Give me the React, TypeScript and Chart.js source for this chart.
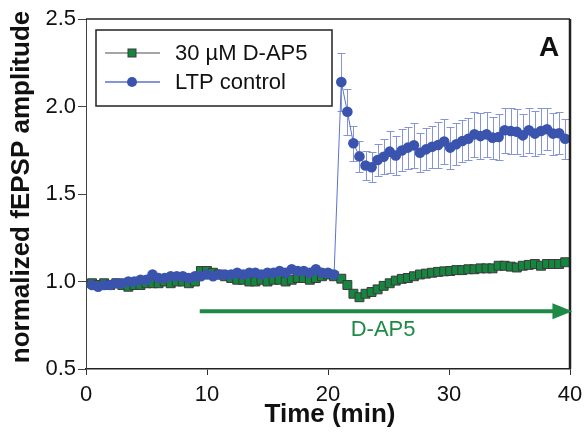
import { useEffect, useRef } from "react";
import { Chart, registerables } from "chart.js";
Chart.register(...registerables);

const baselineTimes = [0.5, 1, 1.5, 2, 2.5, 3, 3.5, 4, 4.5, 5, 5.5, 6, 6.5, 7, 7.5, 8, 8.5, 9, 9.5, 10, 10.5, 11, 11.5, 12, 12.5, 13, 13.5, 14, 14.5, 15, 15.5, 16, 16.5, 17, 17.5, 18, 18.5, 19, 19.5, 20, 20.5];
const postTimes = [21.1, 21.6, 22.1, 22.6, 23.1, 23.6, 24.1, 24.6, 25.1, 25.6, 26.1, 26.6, 27.1, 27.6, 28.1, 28.6, 29.1, 29.6, 30.1, 30.6, 31.1, 31.6, 32.1, 32.6, 33.1, 33.6, 34.1, 34.6, 35.1, 35.6, 36.1, 36.6, 37.1, 37.6, 38.1, 38.6, 39.1, 39.6];

const ltpBaseline = [0.98, 0.97, 0.98, 0.98, 0.99, 0.99, 1.0, 1.0, 1.01, 1.01, 1.04, 1.02, 1.02, 1.03, 1.03, 1.03, 1.02, 1.03, 1.03, 1.04, 1.03, 1.04, 1.04, 1.04, 1.05, 1.04, 1.05, 1.05, 1.04, 1.05, 1.05, 1.06, 1.05, 1.07, 1.06, 1.06, 1.05, 1.07, 1.05, 1.05, 1.04];
const ltpPost = [2.14, 1.97, 1.79, 1.715, 1.663, 1.653, 1.694, 1.713, 1.742, 1.72, 1.749, 1.765, 1.778, 1.736, 1.755, 1.77, 1.78, 1.8, 1.765, 1.784, 1.803, 1.816, 1.841, 1.831, 1.841, 1.822, 1.826, 1.864, 1.86, 1.856, 1.835, 1.864, 1.845, 1.86, 1.87, 1.845, 1.847, 1.816];
const ltpPostErr = [0.165, 0.13, 0.1, 0.09, 0.085, 0.085, 0.09, 0.1, 0.12, 0.11, 0.12, 0.12, 0.13, 0.11, 0.12, 0.12, 0.13, 0.13, 0.12, 0.12, 0.12, 0.12, 0.13, 0.13, 0.13, 0.12, 0.13, 0.13, 0.13, 0.13, 0.12, 0.13, 0.13, 0.13, 0.12, 0.12, 0.12, 0.115];

const dap5Baseline = [0.99, 0.98, 0.99, 0.98, 0.99, 0.98, 0.97, 0.98, 0.98, 0.99, 0.99, 0.99, 1.0, 0.99, 1.0, 1.0, 0.99, 1.0, 1.06, 1.06, 1.05, 1.04, 1.03, 1.02, 1.01, 1.01, 1.0, 1.0, 1.01, 1.0, 1.01, 1.01, 1.0, 1.01, 1.02, 1.02, 1.01, 1.02, 1.03, 1.04, 1.03];
const dap5Post = [1.016, 0.98, 0.93, 0.91, 0.93, 0.94, 0.955, 0.975, 0.99, 1.005, 1.015, 1.02, 1.03, 1.04, 1.045, 1.05, 1.055, 1.058, 1.06, 1.065, 1.065, 1.07, 1.07, 1.075, 1.075, 1.075, 1.09, 1.09, 1.085, 1.08, 1.09, 1.095, 1.1, 1.09, 1.1, 1.1, 1.1, 1.11];

const seriesLabels = ["30 \u00b5M D-AP5", "LTP control"];
const drugLabel = "D-AP5";
const drugStart = 9.4;
const drugEnd = 40.2;
const drugLevel = 0.83;
const panelLetter = "A";
const xTitle = "Time (min)";
const yTitle = "normalized fEPSP amplitude";

const FONT = "'Liberation Sans', Arial, Helvetica, sans-serif";
const BLUE = "#3a54ae";
const BLUE_LINE = "#5c72cc";
const BLUE_ERR = "#8595d8";
const GREEN = "#16853f";
const GREEN_EDGE = "#3a3a3a";
const ARROW_GREEN = "#1f8a46";

const zeroPad = (s: any) => {
  s.paddingLeft = 0;
  s.paddingRight = 0;
  s.paddingTop = 0;
  s.paddingBottom = 0;
};

export default function App() {
  const ref = useRef<HTMLCanvasElement | null>(null);

  useEffect(() => {
    document.body.style.margin = "0";
    const canvas = ref.current;
    if (!canvas) return;

    const times = [...baselineTimes, ...postTimes];
    const ltpVals = [...ltpBaseline, ...ltpPost];
    const ltpErr = [...baselineTimes.map(() => 0), ...ltpPostErr];
    const dapVals = [...dap5Baseline, ...dap5Post];

    const ltpData = times.map((t, i) => ({ x: t, y: ltpVals[i] }));
    const dapData = times.map((t, i) => ({ x: t, y: dapVals[i] }));

    const overlay = {
      id: "overlay",
      beforeDatasetsDraw(chart: any) {
        const { ctx } = chart;
        const xs = chart.scales.x;
        const ys = chart.scales.y;
        ctx.save();
        ctx.strokeStyle = BLUE_ERR;
        ctx.lineWidth = 1;
        times.forEach((t, i) => {
          const e = ltpErr[i];
          if (!e) return;
          const px = Math.round(xs.getPixelForValue(t)) + 0.5;
          const y1 = Math.round(ys.getPixelForValue(ltpVals[i] + e)) + 0.5;
          const y2 = Math.round(ys.getPixelForValue(ltpVals[i] - e)) + 0.5;
          ctx.beginPath();
          ctx.moveTo(px, y1);
          ctx.lineTo(px, y2);
          ctx.moveTo(px - 4, y1);
          ctx.lineTo(px + 4, y1);
          ctx.moveTo(px - 4, y2);
          ctx.lineTo(px + 4, y2);
          ctx.stroke();
        });
        ctx.restore();
      },
      afterDraw(chart: any) {
        const { ctx, chartArea } = chart;
        const xs = chart.scales.x;
        const ys = chart.scales.y;
        ctx.save();
        ctx.strokeStyle = "#222";
        ctx.lineWidth = 1.5;
        ctx.beginPath();
        ctx.moveTo(chartArea.left, chartArea.top);
        ctx.lineTo(chartArea.right, chartArea.top);
        ctx.stroke();
        ctx.lineWidth = 2.5;
        ctx.beginPath();
        ctx.moveTo(chartArea.right, chartArea.top);
        ctx.lineTo(chartArea.right, chartArea.bottom);
        ctx.stroke();

        const ax1 = xs.getPixelForValue(drugStart);
        const ax2 = xs.getPixelForValue(drugEnd);
        const ay = ys.getPixelForValue(drugLevel);
        ctx.strokeStyle = ARROW_GREEN;
        ctx.fillStyle = ARROW_GREEN;
        ctx.lineWidth = 4;
        ctx.beginPath();
        ctx.moveTo(ax1, ay);
        ctx.lineTo(ax2 - 14, ay);
        ctx.stroke();
        ctx.beginPath();
        ctx.moveTo(ax2, ay);
        ctx.lineTo(ax2 - 20, ay - 8);
        ctx.lineTo(ax2 - 20, ay + 8);
        ctx.closePath();
        ctx.fill();
        ctx.font = `22px ${FONT}`;
        ctx.textAlign = "center";
        ctx.textBaseline = "middle";
        ctx.fillText(drugLabel, (ax1 + ax2) / 2 - 3, ay + 19);

        ctx.fillStyle = "#111";
        ctx.font = `bold 28px ${FONT}`;
        ctx.fillText(panelLetter, 549, 48);

        const bx = 96, by = 30, bw = 236, bh = 76;
        ctx.fillStyle = "#fff";
        ctx.fillRect(bx, by, bw, bh);
        ctx.strokeStyle = "#222";
        ctx.lineWidth = 1.5;
        ctx.strokeRect(bx, by, bw, bh);
        const rows = [53, 82];
        ctx.lineWidth = 1.5;
        ctx.strokeStyle = "#888";
        ctx.beginPath();
        ctx.moveTo(105, rows[0]);
        ctx.lineTo(160, rows[0]);
        ctx.stroke();
        ctx.fillStyle = GREEN;
        ctx.fillRect(128, rows[0] - 4, 8, 8);
        ctx.strokeStyle = GREEN_EDGE;
        ctx.lineWidth = 1;
        ctx.strokeRect(128, rows[0] - 4, 8, 8);
        ctx.strokeStyle = BLUE_LINE;
        ctx.lineWidth = 1.5;
        ctx.beginPath();
        ctx.moveTo(105, rows[1]);
        ctx.lineTo(160, rows[1]);
        ctx.stroke();
        ctx.fillStyle = BLUE;
        ctx.beginPath();
        ctx.arc(132, rows[1], 5, 0, Math.PI * 2);
        ctx.fill();
        ctx.fillStyle = "#111";
        ctx.font = `22px ${FONT}`;
        ctx.textAlign = "left";
        ctx.textBaseline = "middle";
        ctx.fillText(seriesLabels[0], 175, rows[0] + 1);
        ctx.fillText(seriesLabels[1], 175, rows[1] + 1);

        ctx.font = `bold 26px ${FONT}`;
        ctx.textAlign = "center";
        ctx.textBaseline = "middle";
        ctx.fillText(xTitle, (chartArea.left + chartArea.right) / 2 + 2, 415);
        ctx.save();
        ctx.translate(22, 187);
        ctx.rotate(-Math.PI / 2);
        ctx.fillText(yTitle, 0, 0);
        ctx.restore();
        ctx.restore();
      },
    };

    const chart = new Chart(canvas, {
      type: "line",
      data: {
        datasets: [
          {
            label: seriesLabels[1],
            data: ltpData,
            borderColor: BLUE_LINE,
            borderWidth: 1,
            backgroundColor: BLUE,
            pointBackgroundColor: BLUE,
            pointBorderColor: BLUE,
            pointBorderWidth: 0,
            pointRadius: 5.3,
            pointStyle: "circle",
            order: 0,
          },
          {
            label: seriesLabels[0],
            data: dapData,
            borderColor: "#777",
            borderWidth: 1,
            backgroundColor: GREEN,
            pointBackgroundColor: GREEN,
            pointBorderColor: GREEN_EDGE,
            pointBorderWidth: 1,
            pointRadius: 6.3,
            pointStyle: "rect",
            order: 1,
          },
        ],
      },
      options: {
        animation: false,
        responsive: true,
        maintainAspectRatio: false,
        layout: { autoPadding: false, padding: { left: 0, top: 19, right: 17, bottom: 0 } },
        plugins: { legend: { display: false }, tooltip: { enabled: false } },
        scales: {
          x: {
            type: "linear",
            min: 0,
            max: 40,
            ticks: {
              stepSize: 10,
              maxRotation: 0,
              autoSkip: false,
              color: "#111",
              padding: 7,
              font: { family: FONT, size: 22 },
            },
            grid: { display: true, drawOnChartArea: false, drawTicks: true, tickLength: 6, color: "#333", lineWidth: 1 },
            border: { display: true, color: "#222", width: 1.5 },
            afterFit: (s: any) => {
              s.height = 67;
              zeroPad(s);
            },
          },
          y: {
            type: "linear",
            min: 0.5,
            max: 2.5,
            ticks: {
              stepSize: 0.5,
              color: "#111",
              padding: 2,
              font: { family: FONT, size: 22 },
              callback: (v: any) => Number(v).toFixed(1),
            },
            grid: { display: true, drawOnChartArea: false, drawTicks: true, tickLength: 8, color: "#444", lineWidth: 1 },
            border: { display: true, color: "#444", width: 1 },
            afterFit: (s: any) => {
              s.width = 86;
              zeroPad(s);
            },
          },
        },
      },
      plugins: [overlay],
    });

    return () => chart.destroy();
  }, []);

  return (
    <div style={{ width: 587, height: 436, position: "relative" }}>
      <canvas ref={ref} />
    </div>
  );
}
